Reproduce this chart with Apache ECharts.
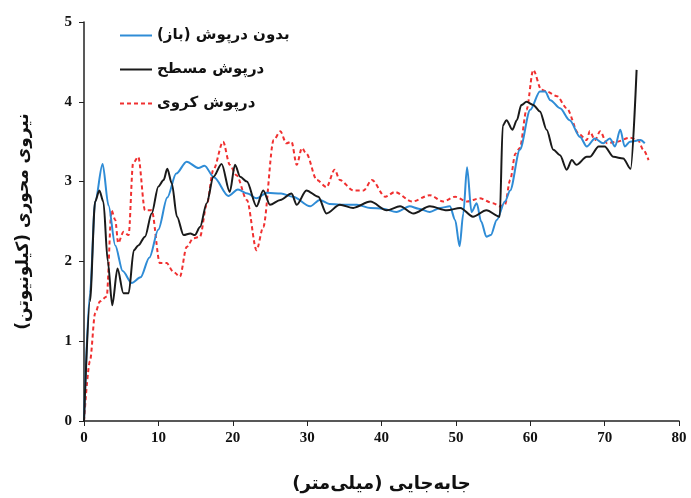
<!DOCTYPE html>
<html><head><meta charset="utf-8">
<script src="https://cdn.jsdelivr.net/npm/echarts@6/dist/echarts.min.js"></script>
<style>html,body{margin:0;padding:0;background:#fff}#c{width:691px;height:498px}</style>
</head><body><div id="c"></div>
<script>
const seriesNames = ['بدون درپوش (باز)', 'درپوش مسطح', 'درپوش کروی'];
const xTitle = 'جابه‌جایی (میلی‌متر)';
const yTitle = 'نیروی محوری (کیلونیوتن)';

const openX = [0,0.8,1.5,2.5,3.3,4.2,5.2,6.4,7.6,8.8,10,11.2,12.4,13.8,15.4,16.2,17.5,19.4,20.7,22,23.2,24.6,26.5,28.1,30.4,31.7,33,34.4,36.7,38.5,40.2,42,43.8,45,46.5,47.9,49.2,49.9,50.5,51,51.5,52.1,52.8,53.4,54.1,54.7,55.5,56.6,57.3,58.6,60,61.3,62,62.7,64,65.3,66.7,67.6,68.7,69.8,70.7,71.4,72.1,72.7,73.4,74.8,75.4];
const openY = [0,1.6,2.75,3.22,2.7,2.2,1.88,1.73,1.8,2.05,2.4,2.8,3.1,3.25,3.17,3.2,3.05,2.82,2.9,2.85,2.79,2.86,2.85,2.81,2.69,2.77,2.72,2.71,2.71,2.67,2.66,2.62,2.69,2.66,2.62,2.67,2.69,2.52,2.19,2.6,3.18,2.62,2.73,2.5,2.31,2.33,2.52,2.75,2.89,3.4,3.9,4.13,4.13,4.02,3.92,3.77,3.56,3.44,3.54,3.48,3.54,3.44,3.65,3.44,3.5,3.52,3.48];

const flatX = [0,0.8,1.5,2.06,2.6,3.2,3.8,4.5,5.3,6,6.7,7.3,8.2,9.1,10,10.7,11.2,11.8,12.5,13.4,14.3,14.9,15.6,16.5,17.4,18.5,19.6,20.3,21,21.9,23.2,24.1,25,26.4,27.9,28.6,29.9,31.5,32.6,34.4,36.2,38.5,40.7,42.5,44.3,46.5,48.8,50.6,52.3,54.1,55.9,56.3,56.8,57.6,58.2,58.8,59.5,60.4,61.3,62.2,63.1,64,64.9,65.6,66.2,67.6,68,69.2,70,71.2,72.5,73.5,74.3];
const flatY = [0,1.5,2.75,2.89,2.75,2.0,1.45,1.91,1.6,1.6,2.14,2.2,2.31,2.6,2.94,3.02,3.16,2.98,2.56,2.33,2.35,2.33,2.43,2.73,3.06,3.22,2.87,3.21,3.06,3.0,2.69,2.89,2.71,2.77,2.85,2.71,2.89,2.81,2.6,2.71,2.67,2.75,2.64,2.69,2.6,2.69,2.64,2.67,2.56,2.64,2.56,3.7,3.77,3.65,3.77,3.96,4.0,3.96,3.88,3.65,3.4,3.33,3.15,3.27,3.21,3.31,3.31,3.44,3.44,3.31,3.29,3.16,4.4];

const domeX = [0,0.8,1.5,2.15,3.05,3.7,4.2,4.6,5.3,6,6.6,7.3,8.2,9.1,10.2,11.1,12,12.9,13.8,14.7,15.6,16.5,17.4,18.7,19.6,20.5,21.9,23.2,24.1,25.5,26.4,27.2,27.9,28.6,29.3,29.9,31.3,32.6,33.7,34.4,36.2,37.6,38.7,40.5,41.8,44.1,46.5,48.3,49.9,51.5,53.2,55,55.9,56.6,57.3,58,58.6,59.5,60.4,61.5,62.2,63.6,64.9,66.5,67.6,68,68.7,69.4,70.3,71.6,73.4,74.5,75.2,75.9];
const domeY = [0,0.75,1.35,1.5,1.56,2.64,2.52,2.23,2.37,2.33,3.23,3.31,2.64,2.64,1.98,1.98,1.87,1.81,2.18,2.29,2.31,2.71,3.15,3.5,3.21,3.08,2.77,2.14,2.43,3.52,3.63,3.48,3.5,3.21,3.42,3.35,3.02,2.93,3.15,3.02,2.89,2.89,3.02,2.81,2.87,2.75,2.83,2.75,2.81,2.75,2.79,2.73,2.69,2.71,3.02,3.35,3.42,3.9,4.4,4.15,4.13,4.07,3.92,3.6,3.52,3.63,3.52,3.63,3.48,3.5,3.55,3.52,3.4,3.27];

const xTicks = [0,10,20,30,40,50,60,70,80];
const yTicks = [0,1,2,3,4,5];

function pairs(xs, ys){ return xs.map((x,i)=>[x, ys[i]]); }

const chart = echarts.init(document.getElementById('c'), null, {renderer:'canvas'});
const labelFont = {fontFamily:'Liberation Serif', fontWeight:'bold', fontSize:15, color:'#111'};
chart.setOption({
  animation:false,
  backgroundColor:'#fff',
  grid:{left:84, right:12, top:22, bottom:77, containLabel:false},
  legend:{
    left:114, top:23, orient:'vertical', itemWidth:32, itemHeight:12, itemGap:19,
    itemStyle:{opacity:0},
    textStyle:{fontFamily:'DejaVu Sans', fontWeight:'bold', fontSize:15, color:'#111'},
    data:seriesNames
  },
  xAxis:{
    type:'value', min:xTicks[0], max:xTicks[xTicks.length-1], interval:10,
    axisLine:{lineStyle:{color:'#222', width:1.5}},
    axisTick:{show:true, length:5, lineStyle:{color:'#222'}},
    axisLabel:Object.assign({margin:10}, labelFont),
    splitLine:{show:false},
    name:xTitle, nameLocation:'middle', nameGap:54,
    nameTextStyle:{fontFamily:'DejaVu Sans', fontWeight:'bold', fontSize:18, color:'#111'}
  },
  yAxis:{
    type:'value', min:yTicks[0], max:yTicks[yTicks.length-1], interval:1,
    axisLine:{show:true, lineStyle:{color:'#222', width:1.5}},
    axisTick:{show:true, length:5, lineStyle:{color:'#222'}},
    axisLabel:Object.assign({margin:12}, labelFont),
    splitLine:{show:false},
    name:yTitle, nameLocation:'middle', nameGap:52, nameRotate:90,
    nameTextStyle:{fontFamily:'DejaVu Sans', fontWeight:'bold', fontSize:17, color:'#111'}
  },
  series:[
    {name:seriesNames[0], type:'line', data:pairs(openX, openY), showSymbol:false, symbol:'none',
     smooth:0.3, smoothMonotone:'x', lineStyle:{color:'#2f8cd6', width:2}, itemStyle:{color:'#2f8cd6'}, z:3},
    {name:seriesNames[1], type:'line', data:pairs(flatX, flatY), showSymbol:false, symbol:'none',
     smooth:0.3, smoothMonotone:'x', lineStyle:{color:'#1a1a1a', width:2}, itemStyle:{color:'#1a1a1a'}, z:4},
    {name:seriesNames[2], type:'line', data:pairs(domeX, domeY), showSymbol:false, symbol:'none',
     smooth:0.3, smoothMonotone:'x', lineStyle:{color:'#f03030', width:2, type:[4,3]}, itemStyle:{color:'#f03030'}, z:2}
  ]
});
</script></body></html>
